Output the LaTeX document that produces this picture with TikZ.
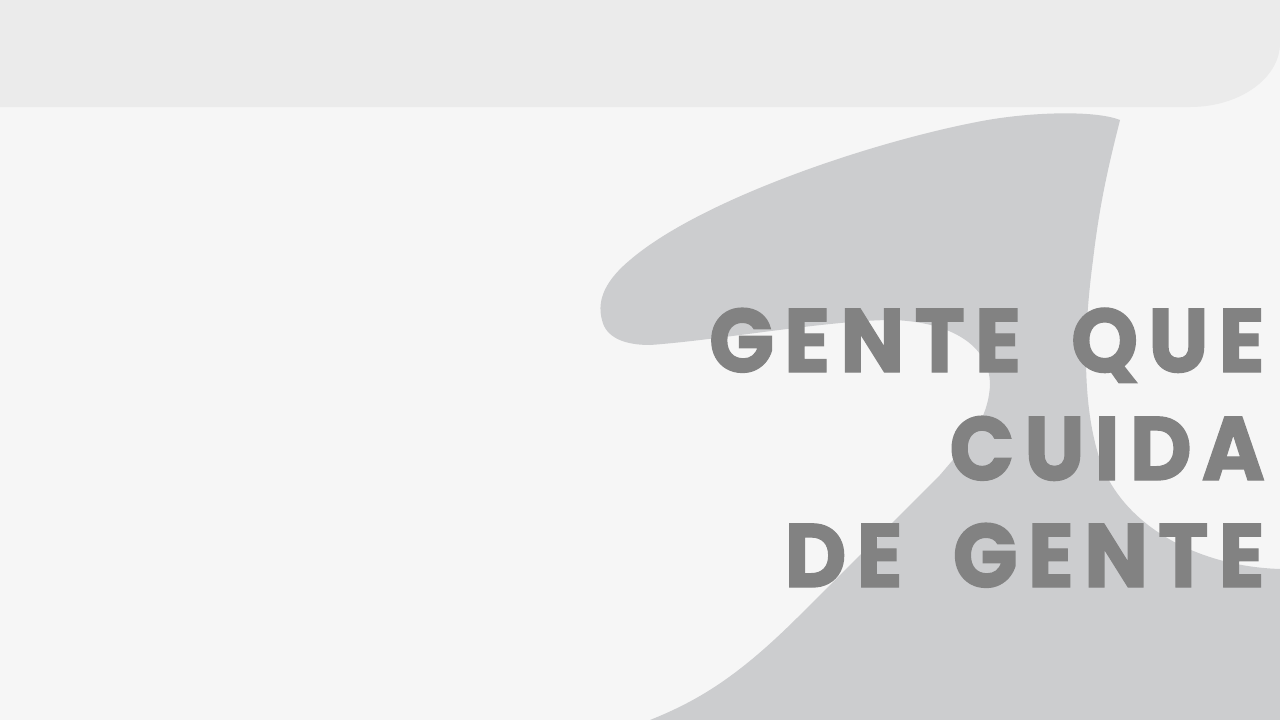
\documentclass[tikz,border=0pt]{standalone}
\usepackage{fontspec}
\newfontfamily\titlefont{Poppins}[LetterSpace=11,FakeStretch=0.95,BoldFeatures={FakeBold=1.5}]
\definecolor{bgcol}{HTML}{F6F6F6}
\definecolor{bandcol}{HTML}{EBEBEB}
\definecolor{wavecol}{HTML}{CCCDCF}
\definecolor{textcol}{HTML}{828282}
\tikzset{
  titleline/.style={anchor=base east, inner sep=0pt, text=textcol,
    font=\titlefont\bfseries\fontsize{90}{90}\selectfont}
}
\newcommand\wordgap{\hspace{50pt}}
\begin{document}
\begin{tikzpicture}[x=1pt,y=-1pt]
\useasboundingbox (0,0) rectangle (1280,720);
\fill[bgcol] (0,0) rectangle (1280,720);
% top band
\fill[bandcol] (0,0) -- (1280,0) -- (1280,43)
  .. controls (1280,78) and (1240,107) .. (1190,107) -- (0,107) -- cycle;
% wave shape
\fill[wavecol] (1120,120)
  .. controls (1095,110) and (1030,112) .. (982,121)
  .. controls (870,142) and (700,200) .. (630,260)
  .. controls (600,285) and (598,305) .. (602,320)
  .. controls (606,338) and (625,345) .. (650,345)
  .. controls (720,340) and (830,320) .. (893,320)
  .. controls (950,322) and (990,345) .. (990,385)
  .. controls (988,420) and (970,440) .. (940,475)
  -- (800,615)
  .. controls (740,675) and (700,700) .. (650,720)
  -- (1280,720) -- (1280,569)
  .. controls (1190,566) and (1120,520) .. (1100,460)
  .. controls (1080,400) and (1085,320) .. (1093,260)
  .. controls (1100,200) and (1110,160) .. (1120,120) -- cycle;
% title
\node[titleline] (l1) at (1265,372) {GENTE\wordgap QUE};
\node[titleline] (l2) at (1265,480) {CUIDA};
\node[titleline] (l3) at (1265,587) {DE\wordgap GENTE};
\end{tikzpicture}
\end{document}
